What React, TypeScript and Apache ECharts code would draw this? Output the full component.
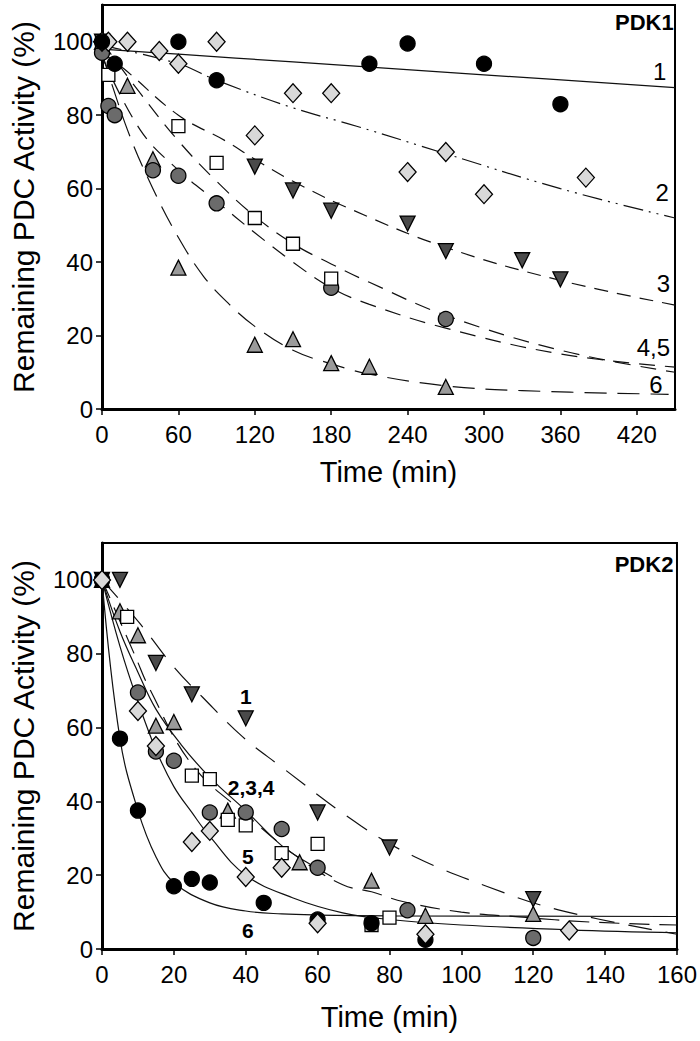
import React, { useEffect, useRef } from "react";
import * as echarts from "echarts";

// ---------- PDK1 (top panel) ----------
const pdk1XTicks = [0, 60, 120, 180, 240, 300, 360, 420];
const pdk1YTicks = [0, 20, 40, 60, 80, 100];

const pdk1S1 = [[0, 100], [10, 94], [60, 100], [90, 89.5], [210, 94], [240, 99.5], [300, 94], [360, 83]];
const pdk1S2 = [[0, 100], [5, 100], [20, 100], [45, 97.5], [60, 94], [90, 100], [120, 74.5], [150, 86], [180, 86], [240, 64.5], [270, 70], [300, 58.5], [380, 63]];
const pdk1S3 = [[0, 100], [120, 66], [150, 59.5], [180, 54], [240, 50.5], [270, 43], [330, 40.5], [360, 35.3]];
const pdk1S4 = [[0, 100], [5, 91], [60, 77], [90, 67], [120, 52], [150, 45], [180, 35.5]];
const pdk1S5 = [[0, 97], [5, 82.5], [10, 80], [40, 65], [60, 63.5], [90, 56], [180, 33], [270, 24.5]];
const pdk1S6 = [[0, 100], [20, 88], [40, 68], [60, 38.5], [120, 17.5], [150, 19], [180, 12.5], [210, 11.5], [270, 6]];

const pdk1Fit1 = [[0, 98], [60, 96.6], [150, 94.5], [300, 91], [450, 87.5]];
const pdk1Fit2 = [[0, 99], [60, 94], [90, 89.5], [150, 82], [200, 77], [270, 69.5], [360, 60], [450, 52]];
const pdk1Fit3 = [[0, 97], [17, 92.7], [60, 80], [97, 73], [120, 68], [150, 62], [198, 54], [270, 44], [360, 35], [450, 28.3]];
const pdk1Fit4 = [[0, 100], [30, 86], [60, 73], [90, 62], [120, 52.5], [150, 45], [180, 39.5], [210, 34.5], [270, 25.5], [360, 16], [450, 10]];
const pdk1Fit5 = [[0, 96], [30, 76], [60, 65], [90, 56.5], [120, 48], [150, 40], [180, 33], [210, 28.5], [270, 22], [360, 15], [450, 11.4]];
const pdk1Fit6 = [[0, 97], [20, 76], [40, 60], [60, 46.7], [80, 36], [100, 28.5], [120, 22.5], [150, 16], [180, 12.3], [210, 9.5], [270, 6.3], [330, 5], [445, 4]];

const pdk1Labels = [
  { name: "1", value: [438, 91.8] },
  { name: "2", value: [440, 59] },
  { name: "3", value: [441, 34.2] },
  { name: "4,5", value: [433, 16.8] },
  { name: "6", value: [435, 6.8] },
];

// ---------- PDK2 (bottom panel) ----------
const pdk2XTicks = [0, 20, 40, 60, 80, 100, 120, 140, 160];
const pdk2YTicks = [0, 20, 40, 60, 80, 100];

const pdk2S1 = [[0, 100], [5, 100], [15, 77.5], [25, 69], [40, 62.5], [60, 37], [80, 27.5], [120, 13.5]];
const pdk2S2 = [[0, 100], [5, 91.5], [10, 85], [15, 60.5], [20, 61.5], [35, 37.5], [55, 23.5], [75, 18.5], [90, 9], [120, 9.5]];
const pdk2S3 = [[0, 100], [7, 90], [25, 47], [30, 46], [35, 35], [40, 33.5], [50, 26], [60, 28.5], [75, 6.5], [80, 8.5]];
const pdk2S4 = [[0, 100], [10, 69.5], [15, 53.5], [20, 51], [30, 37], [40, 37], [50, 32.5], [60, 22], [85, 10.5], [120, 3]];
const pdk2S5 = [[0, 100], [10, 64.5], [15, 55], [25, 29], [30, 32], [40, 19.5], [50, 22], [60, 7], [90, 4], [130, 5]];
const pdk2S6 = [[0, 100], [5, 57], [10, 37.5], [20, 17], [25, 19], [30, 18], [45, 12.5], [60, 8], [75, 7], [90, 2.5]];

const pdk2Fit1 = [[0, 100], [10.7, 88], [20, 76.4], [28, 68.2], [39, 57.6], [49, 50], [72, 33.4], [87, 25], [107, 17], [127, 10.6], [160, 4]];
const pdk2Fit234Dashed = [[0, 100], [9.4, 79], [13, 71], [25, 50], [40, 36.5], [55, 24.5], [67, 17.4], [75, 15.5], [84, 12.8], [100, 10], [116, 8.7], [136, 7.3], [160, 6.5]];
const pdk2Fit234Solid = [[0, 100], [5, 86], [10, 75], [15, 65], [22, 55.4], [30, 46.5], [40, 37.5], [50, 28], [57, 23.5], [64, 19.6]];
const pdk2Fit5 = [[0, 100], [5, 82], [10, 67], [15, 54], [20, 44], [25, 37], [30, 30.5], [40, 20], [53, 13.9], [67, 9.8], [80, 8], [100, 6.5], [130, 5.2], [160, 4.4]];
const pdk2Fit6 = [[0, 100], [5, 57], [10, 37.5], [15, 25], [20, 18], [30, 12.5], [40, 10.3], [50, 9.5], [60, 9.2], [80, 9], [160, 8.8]];

const pdk2Labels = [
  { name: "1", value: [40, 68.5] },
  { name: "2,3,4", value: [41.5, 43.8] },
  { name: "5", value: [40.6, 25] },
  { name: "6", value: [40.6, 5] },
];

const FONT = "'Liberation Sans', Arial, sans-serif";

const markerStyles = {
  s1: { symbol: "circle", color: "#000000", size: 15, rotate: 0 },
  s2: { symbol: "diamond", color: "#d9d9d9", size: 17, rotate: 0 },
  s3: { symbol: "triangle", color: "#4a4a4a", size: 15, rotate: 180 },
  s4: { symbol: "rect", color: "#ffffff", size: 13, rotate: 0 },
  s5: { symbol: "circle", color: "#6b6b6b", size: 15, rotate: 0 },
  s6: { symbol: "triangle", color: "#9a9a9a", size: 15, rotate: 0 },
};

function scatter(data: number[][], st: any, idx: number, z: number) {
  return {
    type: "scatter",
    xAxisIndex: idx,
    yAxisIndex: idx,
    data,
    symbol: st.symbol,
    symbolSize: st.symbol === "diamond" ? [st.size, st.size + 2] : st.size,
    symbolRotate: st.rotate,
    itemStyle: { color: st.color, borderColor: "#000", borderWidth: 1.3, opacity: 1 },
    z,
    silent: true,
  };
}

function fit(data: number[][], idx: number, dash: any, width = 1.2) {
  return {
    type: "line",
    xAxisIndex: idx,
    yAxisIndex: idx,
    data,
    smooth: 0.4,
    showSymbol: false,
    symbol: "none",
    lineStyle: { color: "#111", width, type: dash },
    z: 2,
    silent: true,
  };
}

function labels(data: any[], idx: number, bold: boolean, size: number, align: string) {
  return {
    type: "scatter",
    xAxisIndex: idx,
    yAxisIndex: idx,
    data,
    symbolSize: 0,
    itemStyle: { opacity: 1, color: "#000" },
    z: 10,
    silent: true,
    label: {
      show: true,
      position: "inside",
      formatter: "{b}",
      color: "#000",
      opacity: 1,
      fontFamily: FONT,
      fontSize: size,
      fontWeight: bold ? "bold" : "normal",
      align,
      verticalAlign: "middle",
    },
  };
}

function xAxis(idx: number, max: number, ticks: number[]) {
  return {
    type: "value",
    gridIndex: idx,
    min: 0,
    max,
    name: "Time (min)",
    nameLocation: "middle",
    nameGap: idx === 0 ? 48 : 53,
    nameTextStyle: { fontFamily: FONT, fontSize: 29, color: "#000" },
    axisLine: { show: true, onZero: false, lineStyle: { color: "#000", width: 3 } },
    axisTick: { show: true, inside: false, length: 6, customValues: ticks, lineStyle: { color: "#000", width: 1.5 } },
    axisLabel: { customValues: ticks, fontFamily: FONT, fontSize: 24, color: "#000", margin: 13 },
    splitLine: { show: false },
  };
}

function yAxis(idx: number, ticks: number[]) {
  return {
    type: "value",
    gridIndex: idx,
    min: 0,
    max: 110,
    name: "Remaining PDC Activity (%)",
    nameLocation: "middle",
    nameGap: 64,
    nameRotate: 90,
    nameTextStyle: { fontFamily: FONT, fontSize: 30, color: "#000" },
    axisLine: { show: true, onZero: false, lineStyle: { color: "#000", width: 3 } },
    axisTick: { show: true, inside: false, length: 6, customValues: ticks, lineStyle: { color: "#000", width: 1.5 } },
    axisLabel: { customValues: ticks, fontFamily: FONT, fontSize: 24, color: "#000", margin: 9 },
    splitLine: { show: false },
  };
}

export default function App() {
  const ref = useRef<HTMLDivElement>(null);
  useEffect(() => {
    if (!ref.current) return;
    const chart = echarts.init(ref.current, null, { renderer: "svg" });
    const ms = markerStyles;
    chart.setOption({
      animation: false,
      backgroundColor: "#ffffff",
      grid: [
        { left: 96, top: 5, width: 579, height: 404, show: true, borderColor: "#000", borderWidth: 2, backgroundColor: "transparent" },
        { left: 98, top: 543, width: 579, height: 406, show: true, borderColor: "#000", borderWidth: 2, backgroundColor: "transparent" },
      ],
      xAxis: [xAxis(0, 450, pdk1XTicks), xAxis(1, 160, pdk2XTicks)],
      yAxis: [yAxis(0, pdk1YTicks), yAxis(1, pdk2YTicks)],
      series: [
        fit(pdk1Fit1, 0, "solid"),
        fit(pdk1Fit2, 0, [20, 6, 2, 6, 2, 6]),
        fit(pdk1Fit3, 0, [14, 9]),
        fit(pdk1Fit4, 0, [16, 10]),
        fit(pdk1Fit5, 0, [16, 10]),
        fit(pdk1Fit6, 0, [22, 11]),
        scatter(pdk1S6, ms.s6, 0, 3),
        scatter(pdk1S5, ms.s5, 0, 4),
        scatter(pdk1S4, ms.s4, 0, 5),
        scatter(pdk1S3, ms.s3, 0, 6),
        scatter(pdk1S2, ms.s2, 0, 7),
        scatter(pdk1S1, ms.s1, 0, 8),
        labels(pdk1Labels, 0, false, 24, "center"),
        labels([{ name: "PDK1", value: [449, 105.2] }], 0, true, 22, "right"),

        fit(pdk2Fit1, 1, [24, 14]),
        fit(pdk2Fit234Dashed, 1, [20, 10]),
        fit(pdk2Fit234Solid, 1, "solid"),
        fit(pdk2Fit5, 1, "solid"),
        fit(pdk2Fit6, 1, "solid"),
        scatter(pdk2S1, ms.s3, 1, 3),
        scatter(pdk2S2, ms.s6, 1, 4),
        scatter(pdk2S3, ms.s4, 1, 5),
        scatter(pdk2S4, ms.s5, 1, 6),
        scatter(pdk2S6, ms.s1, 1, 7),
        scatter(pdk2S5, ms.s2, 1, 8),
        labels(pdk2Labels, 1, true, 21, "center"),
        labels([{ name: "PDK2", value: [159, 104.3] }], 1, true, 22, "right"),
      ],
    });
    return () => chart.dispose();
  }, []);
  return <div ref={ref} style={{ position: "absolute", left: 0, top: 0, width: 700, height: 1041 }} />;
}
